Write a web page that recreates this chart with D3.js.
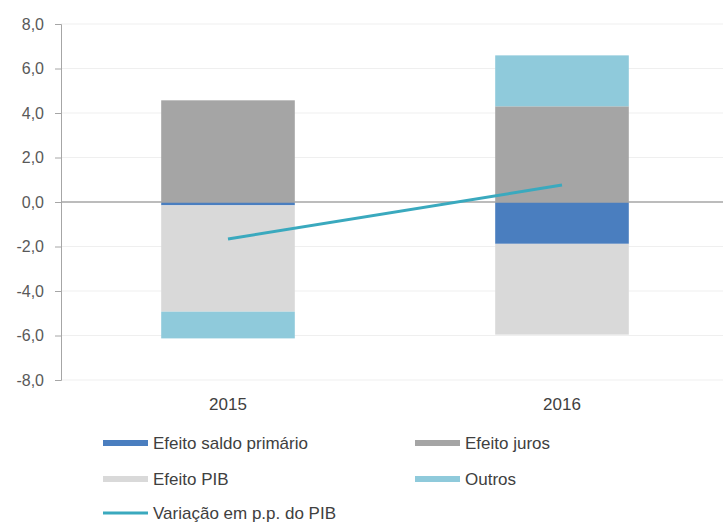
<!DOCTYPE html>
<html>
<head>
<meta charset="utf-8">
<script src="https://cdn.jsdelivr.net/npm/d3@7"></script>
<style>
  html, body { margin: 0; padding: 0; background: #ffffff; }
  svg { display: block; font-family: "Liberation Sans", Arial, sans-serif; }
</style>
</head>
<body>
<svg id="chart" width="723" height="524"></svg>
<script>
// Decomposição da variação da dívida (p.p. do PIB)
const years = ["2015", "2016"];
const seriesNames = ["Efeito saldo primário", "Efeito juros", "Efeito PIB", "Outros"];
const saldoPrimario = [-0.15, -1.88];
const juros = [4.57, 4.30];
const pib = [-4.78, -4.08];
const outros = [-1.20, 2.29];
const variacao = [-1.66, 0.76];
const lineName = "Variação em p.p. do PIB";
const yTicks = [-8, -6, -4, -2, 0, 2, 4, 6, 8];

const colors = {
  "Efeito saldo primário": "#4a7ebf",
  "Efeito juros": "#a5a5a5",
  "Efeito PIB": "#d9d9d9",
  "Outros": "#8fcadb"
};
const lineColor = "#3aa9be";

const svg = d3.select("#chart");
const W = 723;

const x = d3.scaleBand().domain(years).range([61, 729]).paddingInner(0.6).paddingOuter(0.3);
const y = d3.scaleLinear().domain([-8, 8]).range([380, 24]);

// Gridlines
svg.append("g").selectAll("line")
  .data(yTicks.filter(t => t !== 0))
  .join("line")
  .attr("x1", 61).attr("x2", W)
  .attr("y1", d => y(d)).attr("y2", d => y(d))
  .attr("stroke", "#efefef").attr("stroke-width", 1);

// Stacked bars: positive and negative parts stack away from zero
const valuesBySeries = {
  "Efeito saldo primário": saldoPrimario,
  "Efeito juros": juros,
  "Efeito PIB": pib,
  "Outros": outros
};
const rows = years.map((yr, i) => {
  const r = { year: yr };
  seriesNames.forEach(s => { r[s] = valuesBySeries[s][i]; });
  return r;
});
const stacked = d3.stack().keys(seriesNames).offset(d3.stackOffsetDiverging)(rows);

svg.append("g").selectAll("g")
  .data(stacked)
  .join("g")
  .attr("fill", d => colors[d.key])
  .selectAll("rect")
  .data(d => d)
  .join("rect")
  .attr("x", d => x(d.data.year))
  .attr("width", x.bandwidth())
  .attr("y", d => y(Math.max(d[0], d[1])))
  .attr("height", d => Math.abs(y(d[0]) - y(d[1])));

// Zero line
svg.append("line")
  .attr("x1", 61).attr("x2", W)
  .attr("y1", y(0)).attr("y2", y(0))
  .attr("stroke", "#a6a6a6").attr("stroke-width", 1.5);

// Y axis
const yAxis = d3.axisLeft(y)
  .tickValues(yTicks)
  .tickSize(6)
  .tickFormat(d => d3.format(".1f")(d).replace(".", ",").replace("−", "-"));
const ga = svg.append("g").attr("transform", "translate(61,0)").call(yAxis);
ga.select(".domain").attr("stroke", "#a6a6a6");
ga.selectAll(".tick line").attr("stroke", "#a6a6a6");
ga.selectAll(".tick text")
  .attr("x", -17)
  .attr("fill", "#595959")
  .style("font-size", "16px")
  .style("font-family", "'Liberation Sans', Arial, sans-serif");

// X labels
svg.append("g").selectAll("text")
  .data(years)
  .join("text")
  .attr("x", d => x(d) + x.bandwidth() / 2)
  .attr("y", 410)
  .attr("text-anchor", "middle")
  .attr("fill", "#404040")
  .style("font-size", "17px")
  .text(d => d);

// Variation line
const line = d3.line()
  .x((d, i) => x(years[i]) + x.bandwidth() / 2)
  .y(d => y(d));
svg.append("path")
  .datum(variacao)
  .attr("d", line)
  .attr("fill", "none")
  .attr("stroke", lineColor)
  .attr("stroke-width", 3);

// Legend
const legendItems = [
  { name: "Efeito saldo primário", type: "bar", col: 0, row: 0 },
  { name: "Efeito juros", type: "bar", col: 1, row: 0 },
  { name: "Efeito PIB", type: "bar", col: 0, row: 1 },
  { name: "Outros", type: "bar", col: 1, row: 1 },
  { name: lineName, type: "line", col: 0, row: 2 }
];
const colX = [103, 415];
const rowY = [443, 479, 513];
const lg = svg.append("g").selectAll("g")
  .data(legendItems)
  .join("g")
  .attr("transform", d => `translate(${colX[d.col]},${rowY[d.row]})`);
lg.append("rect")
  .attr("x", 0)
  .attr("y", d => d.type === "bar" ? -3 : -1.5)
  .attr("width", 45)
  .attr("height", d => d.type === "bar" ? 6 : 3)
  .attr("fill", d => d.type === "bar" ? colors[d.name] : lineColor);
lg.append("text")
  .attr("x", 50)
  .attr("y", 0)
  .attr("dy", "0.35em")
  .attr("fill", "#404040")
  .style("font-size", "17px")
  .text(d => d.name);
</script>
</body>
</html>
